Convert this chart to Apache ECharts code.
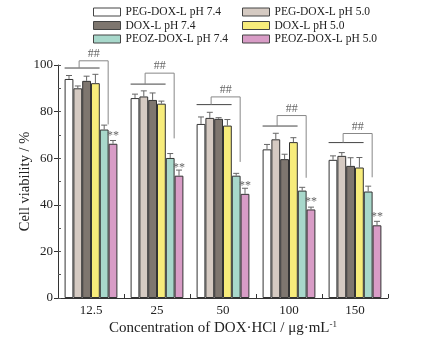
<!DOCTYPE html>
<html>
<head>
<meta charset="utf-8">
<script src="https://cdn.jsdelivr.net/npm/echarts@6/dist/echarts.min.js"></script>
<style>
  html, body { margin: 0; padding: 0; background: #fff; }
  #chart { width: 421px; height: 341px; }
</style>
</head>
<body>
<div id="chart"></div>
<script>
const categories = ['12.5', '25', '50', '100', '150'];
const seriesNames = [
  'PEG-DOX-L pH 7.4', 'PEG-DOX-L pH 5.0',
  'DOX-L pH 7.4', 'DOX-L pH 5.0',
  'PEOZ-DOX-L pH 7.4', 'PEOZ-DOX-L pH 5.0'
];
const pegNeutral = [94, 85.8, 74.7, 63.8, 59.3];
const pegAcid = [90, 86.5, 77.3, 68.1, 61];
const doxNeutral = [93.2, 85, 76.9, 59.6, 56.7];
const doxAcid = [92.2, 83.4, 74, 66.9, 56];
const peozNeutral = [72.3, 60.1, 52.5, 46.1, 45.7];
const peozAcid = [66.2, 52.5, 44.7, 38, 31.2];

const pegNeutralErr = [1.5, 1.7, 3, 2.1, 1.7];
const pegAcidErr = [1, 2.4, 2.4, 2.6, 1.4];
const doxNeutralErr = [2, 3, 0.5, 2.1, 3.5];
const doxAcidErr = [3.8, 1.1, 2.6, 1.9, 4.3];
const peozNeutralErr = [1.9, 1.9, 1, 1.4, 2.3];
const peozAcidErr = [1.4, 2.4, 2.4, 1, 1.7];

// significance brackets: lower bar, top bar, end of the drop line (y values)
const bracketLow = [98.7, 91.8, 83, 73.8, 66.7];
const bracketTop = [101.8, 96.5, 86.3, 78.3, 70.6];
const bracketEnd = [74.5, 68.5, 58.4, 51.6, 51.8];

const yTicks = [0, 20, 40, 60, 80, 100];

const values = [pegNeutral, pegAcid, doxNeutral, doxAcid, peozNeutral, peozAcid];
const errors = [pegNeutralErr, pegAcidErr, doxNeutralErr, doxAcidErr, peozNeutralErr, peozAcidErr];
const colors = ['#ffffff', '#d5cac2', '#7e766f', '#f7ec7b', '#a8d8cb', '#d89cc6'];

const FONT = "'Liberation Serif', 'Times New Roman', serif";
const GAP = 0.2;
const N = values.length;

function barCenter(api, idx, s) {
  const band = api.size([1, 0])[0];
  const bw = band * (1 - GAP) / N;
  const c = api.coord([idx, 0])[0];
  return c - band * (1 - GAP) / 2 + (s + 0.5) * bw;
}

const series = [];
values.forEach((vals, s) => {
  series.push({
    name: seriesNames[s],
    type: 'bar',
    data: vals,
    barGap: '0%',
    barCategoryGap: '20%',
    itemStyle: { color: colors[s], borderColor: '#333', borderWidth: 1 },
    label: s === N - 1 ? {
      show: true, position: 'top', distance: 2, formatter: '**',
      fontFamily: FONT, fontSize: 12, color: '#666'
    } : { show: false },
    z: 2
  });
});
values.forEach((vals, s) => {
  series.push({
    type: 'custom',
    data: vals.map((v, i) => [i, v, errors[s][i]]),
    z: 3,
    silent: true,
    renderItem: (params, api) => {
      const i = api.value(0);
      const x = barCenter(api, i, s);
      const y0 = api.coord([i, api.value(1)])[1];
      const y1 = api.coord([i, api.value(1) + api.value(2)])[1];
      const st = { stroke: '#666', lineWidth: 1 };
      return {
        type: 'group',
        children: [
          { type: 'line', shape: { x1: x, y1: y0, x2: x, y2: y1 }, style: st },
          { type: 'line', shape: { x1: x - 3, y1: y1, x2: x + 3, y2: y1 }, style: st }
        ]
      };
    }
  });
});
series.push({
  type: 'custom',
  data: categories.map((c, i) => [i, bracketLow[i], bracketTop[i], bracketEnd[i]]),
  clip: false,
  silent: true,
  z: 4,
  renderItem: (params, api) => {
    const i = api.value(0);
    const band = api.size([1, 0])[0];
    const c = api.coord([i, 0])[0];
    const yLow = api.coord([i, api.value(1)])[1];
    const yTop = api.coord([i, api.value(2)])[1];
    const yEnd = api.coord([i, api.value(3)])[1];
    const xa = c - 0.4 * band;
    const xb = c + 0.13 * band;
    const xm = c - 0.18 * band;
    const xd = c + 0.26 * band;
    const dark = { stroke: '#444', lineWidth: 1 };
    const grey = { stroke: '#888', lineWidth: 1 };
    return {
      type: 'group',
      children: [
        { type: 'line', shape: { x1: xa, y1: yLow, x2: xb, y2: yLow }, style: dark },
        { type: 'line', shape: { x1: xm, y1: yLow, x2: xm, y2: yTop }, style: grey },
        { type: 'line', shape: { x1: xm, y1: yTop, x2: xd, y2: yTop }, style: grey },
        { type: 'line', shape: { x1: xd, y1: yTop, x2: xd, y2: yEnd }, style: grey },
        {
          type: 'text',
          style: {
            x: (xm + xd) / 2, y: yTop - 1, text: '##',
            fontFamily: FONT, fontSize: 12, fill: '#666',
            align: 'center', verticalAlign: 'bottom'
          }
        }
      ]
    };
  }
});

const legendBase = {
  orient: 'vertical',
  top: 1,
  itemWidth: 27,
  itemHeight: 8,
  itemGap: 1.5,
  icon: 'rect',
  itemStyle: { borderWidth: 1, borderColor: '#444' },
  textStyle: { fontFamily: FONT, fontSize: 11.5, color: '#222', lineHeight: 12 },
  selectedMode: false
};

const chart = echarts.init(document.getElementById('chart'));
chart.setOption({
  backgroundColor: '#fff',
  animation: false,
  legend: [
    Object.assign({}, legendBase, { left: 88, data: [seriesNames[0], seriesNames[2], seriesNames[4]] }),
    Object.assign({}, legendBase, { left: 237, data: [seriesNames[1], seriesNames[3], seriesNames[5]] })
  ],
  grid: { left: 58, right: 33, top: 65, bottom: 41 },
  xAxis: {
    type: 'category',
    data: categories,
    name: 'Concentration of DOX·HCl / μg·mL{sup|-1}',
    nameLocation: 'middle',
    nameGap: 22,
    nameMoveOverlap: false,
    nameTextStyle: {
      fontFamily: FONT, fontSize: 15, color: '#222',
      rich: { sup: { fontFamily: FONT, fontSize: 9, color: '#222', padding: [0, 0, 8, 0] } }
    },
    axisLine: { lineStyle: { color: '#333', width: 1 } },
    axisTick: { show: true, inside: true, length: 4, lineStyle: { color: '#333' } },
    axisLabel: { fontFamily: FONT, fontSize: 13, color: '#222', margin: 6 }
  },
  yAxis: [
    {
      type: 'value',
      min: yTicks[0],
      max: yTicks[yTicks.length - 1],
      interval: 20,
      name: 'Cell viability / %',
      nameLocation: 'middle',
      nameGap: 25,
      nameMoveOverlap: false,
      nameTextStyle: { fontFamily: FONT, fontSize: 14.5, color: '#222' },
      axisLine: { show: true, lineStyle: { color: '#333', width: 1 } },
      axisTick: { show: true, length: 4, lineStyle: { color: '#333' } },
      axisLabel: { fontFamily: FONT, fontSize: 13, color: '#222', margin: 5 },
      splitLine: { show: false }
    },
    {
      type: 'value',
      position: 'left',
      min: 0,
      max: 100,
      interval: 10,
      axisLine: { show: false },
      axisTick: { show: true, inside: true, length: 3, lineStyle: { color: '#555' } },
      axisLabel: { show: false },
      splitLine: { show: false }
    }
  ],
  series: series
});
</script>
</body>
</html>
